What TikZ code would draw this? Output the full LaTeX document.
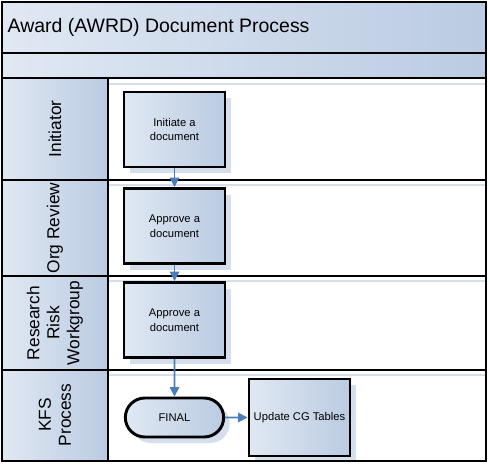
\documentclass[tikz,border=0pt]{standalone}
\usepackage{fontspec}
\setmainfont{Liberation Sans}
\usetikzlibrary{shapes.misc,shadows,arrows.meta}

\definecolor{bandlight}{RGB}{224,232,243}
\definecolor{banddark}{RGB}{186,203,226}
\definecolor{shadowblue}{RGB}{212,222,236}
\definecolor{arrowblue}{RGB}{74,126,187}

\tikzset{
  band/.style={draw=black,line width=2pt,left color=bandlight,right color=banddark},
  lanecell/.style={draw=black,line width=2.2pt,left color=bandlight,right color=banddark},
  lanebody/.style={draw=black,line width=2.2pt,fill=white},
  lanetext/.style={rotate=90,align=center,font=\fontsize{13}{15}\selectfont},
  taskbox/.style={draw=black,line width=2.2pt,left color=bandlight,right color=banddark,
    minimum width=75.75pt,minimum height=56.25pt,align=center,inner sep=1pt,
    font=\fontsize{8.4}{11}\selectfont,
    drop shadow={shadow xshift=4.5pt,shadow yshift=-4.5pt,fill=shadowblue,opacity=1}},
  endbox/.style={taskbox,rounded rectangle,minimum height=29.25pt},
  flow/.style={draw=arrowblue,line width=1.4pt,-{Triangle[length=7pt,width=7pt]}}
}

\begin{document}
\begin{tikzpicture}[x=0.75pt,y=-0.75pt]
\useasboundingbox (0,0) rectangle (490,465);

%Title bands
\draw [band] (2,2) rectangle (486,53);
\draw [band] (2,53) rectangle (486,78);
\node [anchor=west,font=\fontsize{14.6}{17}\selectfont] (title) at (3,27) {Award (AWRD) Document Process};

%Lanes
\draw [lanebody] (108,78) rectangle (486,180);
\draw [lanebody] (108,180) rectangle (486,276);
\draw [lanebody] (108,276) rectangle (486,370);
\draw [lanebody] (108,370) rectangle (486,461);
\foreach \y in {84,185,281,375}
  \draw [shadowblue,line width=2pt] (3,\y) -- (485,\y);
\draw [lanecell] (2,78) rectangle (108,180);
\draw [lanecell] (2,180) rectangle (108,276);
\draw [lanecell] (2,276) rectangle (108,370);
\draw [lanecell] (2,370) rectangle (108,461);

% Lane labels
\node [lanetext] (initiator) at (55,129) {Initiator};
\node [lanetext] (orgreview) at (55,228) {Org Review};
\node [lanetext] (research) at (55,323) {Research\\Risk\\Workgroup};
\node [lanetext] (kfs) at (55,415) {KFS\\Process};

% Steps
\node [taskbox] (initiate) at (174.5,129.5) {Initiate a\\document};
\node [taskbox] (approveorg) at (174.5,226) {Approve a\\document};
\node [taskbox] (approverisk) at (174.5,320) {Approve a\\document};
\node [endbox] (final) at (174.5,417.5) {FINAL};
\node [taskbox,minimum height=57.75pt] (update) at (299.5,417.5) {Update CG Tables};

% Connectors
\draw [flow] (initiate) -- (approveorg);
\draw [flow] (approveorg) -- (approverisk);
\draw [flow] (approverisk) -- (final);
\draw [flow] (final) -- (update);

%Outer frame
\draw [line width=2pt] (2,2) rectangle (486,461);

\end{tikzpicture}
\end{document}
